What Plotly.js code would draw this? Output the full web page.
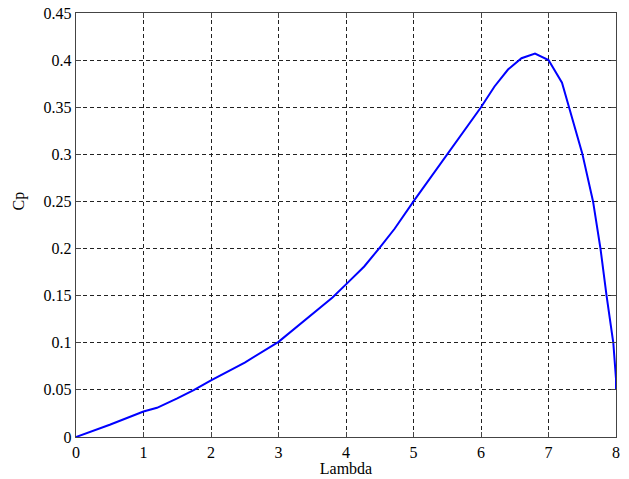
<!DOCTYPE html>
<html>
<head>
<meta charset="utf-8">
<script src="https://cdn.plot.ly/plotly-3.0.1.min.js"></script>
<style>html,body{margin:0;padding:0;background:#fff;}#chart{width:629px;height:479px;}</style>
</head>
<body>
<div id="chart"></div>
<script>
const lambda = [0, 0.5, 1, 1.2, 1.5, 1.75, 2, 2.5, 3, 3.5, 3.8, 4, 4.27, 4.5, 4.72, 5, 5.25, 5.5, 5.75, 6, 6.2, 6.4, 6.6, 6.8, 7.0, 7.2, 7.3, 7.4, 7.5, 7.66, 7.77, 7.86, 7.96, 8.0, 8.0];
const cp = [0, 0.013, 0.027, 0.031, 0.041, 0.050, 0.060, 0.079, 0.101, 0.130, 0.148, 0.162, 0.181, 0.201, 0.221, 0.250, 0.275, 0.300, 0.325, 0.350, 0.372, 0.390, 0.402, 0.407, 0.400, 0.376, 0.351, 0.326, 0.301, 0.250, 0.200, 0.150, 0.100, 0.062, 0.050];
const xTicks = [0, 1, 2, 3, 4, 5, 6, 7, 8];
const yTicks = [0, 0.05, 0.1, 0.15, 0.2, 0.25, 0.3, 0.35, 0.4, 0.45];
const yTickText = ["0", "0.05", "0.1", "0.15", "0.2", "0.25", "0.3", "0.35", "0.4", "0.45"];
const yLabel = "Cp";
const xLabel = "Lambda";

const font = {family: "Liberation Serif, Times New Roman, serif", size: 16, color: "#000"};
const axisCommon = {
  showline: true, mirror: "ticks", linecolor: "#444", linewidth: 1.3,
  ticks: "inside", ticklen: 5, tickcolor: "#444",
  showgrid: true, gridcolor: "#222", gridwidth: 1, griddash: "4px,3px",
  zeroline: false, tickfont: font
};
Plotly.newPlot("chart", [{
  x: lambda, y: cp, type: "scatter", mode: "lines",
  line: {color: "#0000ff", width: 2}, hoverinfo: "none"
}], {
  width: 629, height: 479,
  margin: {l: 76, r: 13, t: 13, b: 42},
  paper_bgcolor: "#fff", plot_bgcolor: "#fff",
  showlegend: false,
  font: font,
  xaxis: Object.assign({}, axisCommon, {
    range: [0, 8], tickvals: xTicks, ticktext: xTicks.map(String),
    title: {text: xLabel, font: font, standoff: 2}
  }),
  yaxis: Object.assign({}, axisCommon, {
    range: [0, 0.45], tickvals: yTicks, ticktext: yTickText
  }),
  annotations: [{
    text: yLabel, xref: "paper", yref: "y", x: 0, y: 0.25,
    xanchor: "center", yanchor: "middle", xshift: -57, textangle: -90,
    showarrow: false, font: font
  }]
}, {staticPlot: true});
</script>
</body>
</html>
